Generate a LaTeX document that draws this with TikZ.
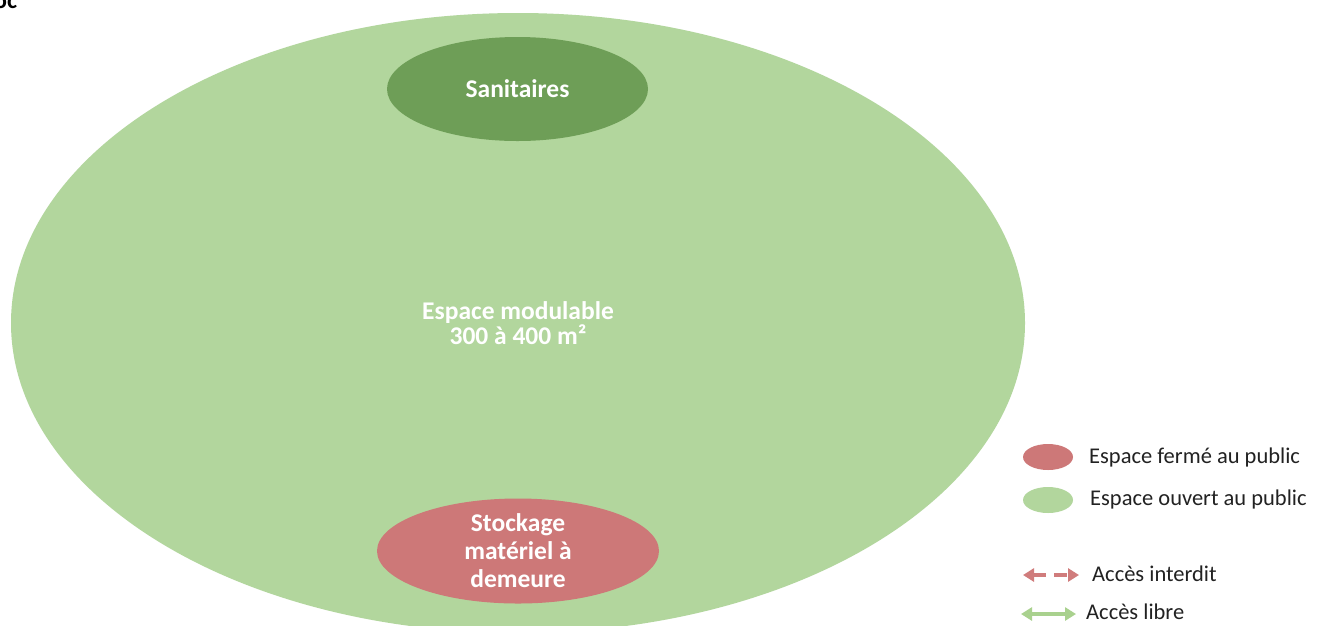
\documentclass[tikz,border=0pt]{standalone}
\usepackage{fontspec}
\setmainfont{Carlito}
\usetikzlibrary{shapes.geometric,arrows.meta}
\definecolor{lightgreen}{HTML}{B2D69D}
\definecolor{darkgreen}{HTML}{6E9E57}
\definecolor{roseRed}{HTML}{CD7878}
\definecolor{arrowRed}{HTML}{D07C7C}
\definecolor{arrowGreen}{HTML}{A9D18E}
\definecolor{legendtext}{HTML}{222222}
\tikzset{
  zone/.style={ellipse, inner sep=0pt, text=white, align=center,
    font=\fontsize{25.5}{28}\selectfont\bfseries},
  legendmark/.style={ellipse, inner sep=0pt, minimum width=50pt, minimum height=26pt},
  legendlabel/.style={anchor=west, inner sep=0pt, text=legendtext,
    font=\fontsize{22.5}{26}\selectfont},
  access/.style={line width=4.5pt, {Triangle[length=11pt,width=13pt]}-{Triangle[length=11pt,width=13pt]}},
}
\begin{document}
\begin{tikzpicture}[x=1pt,y=-1pt]
\clip (0,0) rectangle (1321,625);
\fill[white] (0,0) rectangle (1321,625);
% partial heading at top-left
\node[anchor=base west, inner sep=0pt, font=\fontsize{24}{27}\selectfont\bfseries] (head) at (-6,8) {oc};
% main space
\node[zone, fill=lightgreen, minimum width=1014pt, minimum height=620pt,
  font=\fontsize{25.5}{25}\selectfont\bfseries] (main) at (518,323)
  {Espace modulable\\300 à 400 m²};
\node[zone, fill=darkgreen, minimum width=261pt, minimum height=104pt] (sani) at (517.5,89) {Sanitaires};
\node[zone, fill=roseRed, minimum width=282pt, minimum height=105pt] (stock) at (518,551)
  {Stockage\\matériel à\\demeure};
% legend
\node[legendmark, fill=roseRed] (lred) at (1048,457) {};
\node[legendlabel] (tred) at (1089,457) {Espace fermé au public};
\node[legendmark, fill=lightgreen] (lgreen) at (1048,500) {};
\node[legendlabel] (tgreen) at (1090,499) {Espace ouvert au public};
\coordinate (ra) at (1023,575);
\coordinate (rb) at (1079,575);
\draw[access, arrowRed, dash pattern=on 13pt off 8pt] (ra) -- (rb);
\node[legendlabel] (tint) at (1092,574) {Accès interdit};
\coordinate (ga) at (1021,614);
\coordinate (gb) at (1076,614);
\draw[access, arrowGreen] (ga) -- (gb);
\node[legendlabel] (tlib) at (1086,612) {Accès libre};
\end{tikzpicture}
\end{document}
